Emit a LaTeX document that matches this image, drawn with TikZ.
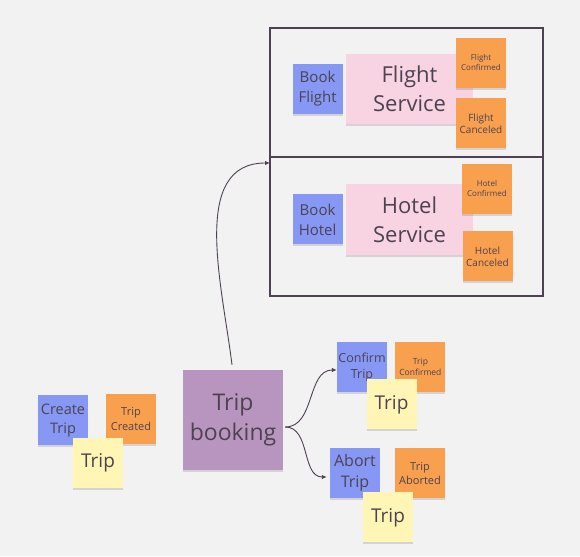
\documentclass[tikz,border=0pt]{standalone}
\usepackage{fontspec}
\setmainfont{Open Sans}
\usepackage{tikz}
\usetikzlibrary{positioning, arrows.meta, shadows}
\definecolor{bggray}{HTML}{F2F2F2}
\definecolor{ink}{HTML}{4E4252}
\definecolor{cmdblue}{HTML}{8698F4}
\definecolor{evtorange}{HTML}{F9A04F}
\definecolor{aggyellow}{HTML}{FFF5B5}
\definecolor{svcpink}{HTML}{F8D4E3}
\definecolor{procpurple}{HTML}{B895BE}
\tikzset{
    sticky/.style={rectangle, inner sep=1pt, align=center, text=ink, minimum width=50pt, minimum height=50pt,
        drop shadow={shadow xshift=0pt, shadow yshift=-2pt, opacity=0.18, fill=ink}},
    command/.style={sticky, fill=cmdblue},
    event/.style={sticky, fill=evtorange},
    aggregate/.style={sticky, fill=aggyellow, font=\fontsize{19}{22}\selectfont},
    service/.style={sticky, fill=svcpink, minimum width=127pt, minimum height=70pt, font=\fontsize{22}{29}\selectfont},
    process/.style={sticky, fill=procpurple, minimum size=100pt, font=\fontsize{23}{30}\selectfont},
    frame/.style={draw=ink, line width=1.3pt},
    arrow/.style={-{Latex[length=5pt,width=4.5pt]}, draw=ink, line width=0.9pt}
}

\begin{document}
\begin{tikzpicture}[x=1pt, y=1pt]
        % Background
        \fill[bggray] (0,0) rectangle (580,556);
        \useasboundingbox (0,0) rectangle (580,556);

        % Services frame
        \draw[frame] (270,260) rectangle (543,528);
        \draw[frame] (270,399) -- (543,399);

        % Flight service
        \node[service] (FlightSvc) at (409.5,467) {Flight\\Service};
        \node[command, font=\fontsize{15}{20}\selectfont, left=3pt of FlightSvc] (BookFlight) {Book\\Flight};
        \node[event, font=\fontsize{8}{10}\selectfont] (FlightOK) at (481,493) {Flight\\Confirmed};
        \node[event, font=\fontsize{10}{12}\selectfont, below=10pt of FlightOK] (FlightKO) {Flight\\Canceled};

        % Hotel service
        \node[service, minimum height=71pt] (HotelSvc) at (409.5,336.5) {Hotel\\Service};
        \node[command, font=\fontsize{15}{20}\selectfont, left=3pt of HotelSvc] (BookHotel) {Book\\Hotel};
        \node[event, font=\fontsize{8}{10}\selectfont] (HotelOK) at (487,367) {Hotel\\Confirmed};
        \node[event, font=\fontsize{10}{12}\selectfont] (HotelKO) at (487.5,299.5) {Hotel\\Canceled};

        % Trip booking process
        \node[process] (TripBooking) at (233,136) {Trip\\booking};

        % Create trip
        \node[command, font=\fontsize{14.5}{19}\selectfont] (CreateTrip) at (63,135.5) {Create\\Trip};
        \node[event, font=\fontsize{11}{15}\selectfont] (TripCreated) at (131,137) {Trip\\Created};
        \node[aggregate] (TripC) at (98,93) {Trip};

        % Confirm trip
        \node[command, font=\fontsize{12.5}{16}\selectfont] (ConfirmTrip) at (362,189) {Confirm\\Trip};
        \node[event, font=\fontsize{8.5}{11}\selectfont, right=8pt of ConfirmTrip] (TripConfirmed) {Trip\\Confirmed};
        \node[aggregate] (TripOK) at (391.5,151.5) {Trip};

        % Abort trip
        \node[command, font=\fontsize{16}{21}\selectfont] (AbortTrip) at (355,83) {Abort\\Trip};
        \node[event, font=\fontsize{11}{14}\selectfont] (TripAborted) at (420,82.5) {Trip\\Aborted};
        \node[aggregate] (TripKO) at (388,38.5) {Trip};

        % Wires
        \draw[arrow] ([xshift=-1pt, yshift=5pt]TripBooking.north) to[out=97, in=180] ([yshift=-6pt]270,399);
        \draw[arrow] ([xshift=2pt, yshift=-7pt]TripBooking.east) to[out=0, in=180] ([yshift=-3pt]ConfirmTrip.west);
        \draw[arrow] ([xshift=2pt, yshift=-7pt]TripBooking.east) to[out=0, in=180] ([xshift=-3pt, yshift=-4pt]AbortTrip.west);

    \end{tikzpicture}
\end{document}
